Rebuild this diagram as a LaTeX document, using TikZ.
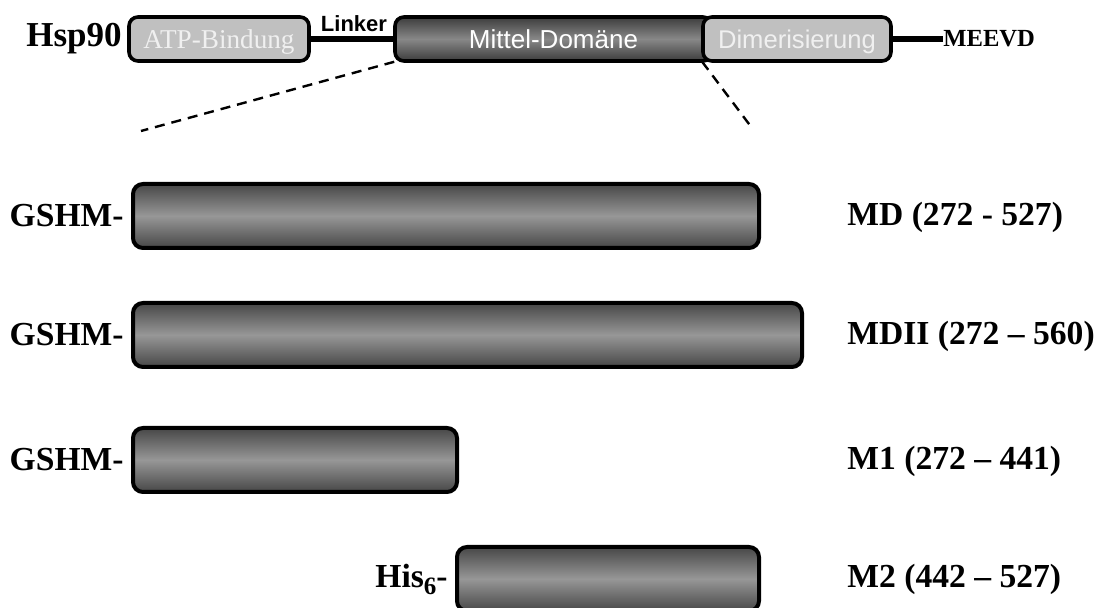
\documentclass[tikz,border=0pt]{standalone}
\usepackage{fontspec}
\setmainfont{Liberation Serif}
\setsansfont{Liberation Sans}
\definecolor{barDark}{HTML}{474747}
\definecolor{barLight}{HTML}{979797}
\definecolor{domLight}{HTML}{C0C0C0}
\definecolor{domText}{HTML}{F0F0F0}
\tikzset{
  lab/.style={font=\fontsize{16.8}{18}\selectfont\bfseries\rmfamily, inner sep=0pt},
  tag/.style={lab, anchor=east, xshift=-3.5pt},
  bar/.style={draw=black, line width=2pt, rounded corners=5pt,
    top color=barDark, bottom color=barDark, middle color=barLight,
    minimum height=32pt, inner sep=0pt, anchor=west},
  dombox/.style={draw=black, line width=1.8pt, rounded corners=4.5pt,
    minimum height=22pt, inner sep=0pt, text height=10pt, text depth=0.5pt},
  lightdom/.style={dombox, fill=domLight, text=domText},
  darkdom/.style={dombox,
    top color=barDark!85!black, bottom color=barDark!85!black, middle color=barLight!90!black,
    text=white},
  tether/.style={line width=2.6pt},
  zoomline/.style={line width=1.2pt, dash pattern=on 5pt off 3.5pt},
}
\begin{document}
\begin{tikzpicture}[x=0.5pt, y=-0.5pt]
\useasboundingbox (0,0) rectangle (1104,608);

% full-length Hsp90 domain map
\node[lab, anchor=west, font=\fontsize{17.5}{18}\selectfont\bfseries\rmfamily] (hsp) at (26,39) {Hsp90};
\node[lightdom, minimum width=90pt, font=\fontsize{13.6}{15}\selectfont\rmfamily] (atp) at (219,39) {ATP-Bindung};
\node[darkdom, minimum width=158.5pt, font=\fontsize{13}{15}\selectfont\sffamily] (mid) at (553.5,39) {Mittel-Domäne};
\node[lightdom, minimum width=94pt, font=\fontsize{12.8}{15}\selectfont\sffamily] (dim) at (797,39) {Dimerisierung};
\draw[tether] (atp.east) -- (mid.west);
\node[font=\fontsize{11}{12}\selectfont\sffamily\bfseries, inner sep=0pt] (linker) at (354,23.5) {Linker};
\coordinate (tail) at (943,39);
\draw[tether] (dim.east) -- (tail);
\node[font=\fontsize{12.3}{13}\selectfont\rmfamily\bfseries, inner sep=0pt, anchor=west] (meevd) at (tail) {MEEVD};

% zoom onto the middle domain
\coordinate (zl) at (141,131);
\coordinate (zr) at (752,128);
\draw[zoomline] (mid.south west) ++(1,-1) -- (zl);
\draw[zoomline] (dim.south west) ++(1,-1) -- (zr);

% constructs
\node[bar, minimum width=313pt] (md) at (131,216) {};
\node[bar, minimum width=334.5pt] (mdii) at (131,335) {};
\node[bar, minimum width=162pt] (m1) at (131,460) {};
\node[bar, minimum width=151pt] (m2) at (455,579) {};

\node[tag] (t1) at (md.west) {GSHM-};
\node[tag] (t2) at (mdii.west) {GSHM-};
\node[tag] (t3) at (m1.west) {GSHM-};
\node[tag] (t4) at (m2.west) {His\raisebox{-0.45ex}{\fontsize{12.5}{13}\selectfont 6}-};

\node[lab, anchor=west] (l1) at (847,217) {MD (272 - 527)};
\node[lab, anchor=west] (l2) at (847,336) {MDII (272 – 560)};
\node[lab, anchor=west] (l3) at (847,461) {M1 (272 – 441)};
\node[lab, anchor=west] (l4) at (847,579) {M2 (442 – 527)};
\end{tikzpicture}
\end{document}
